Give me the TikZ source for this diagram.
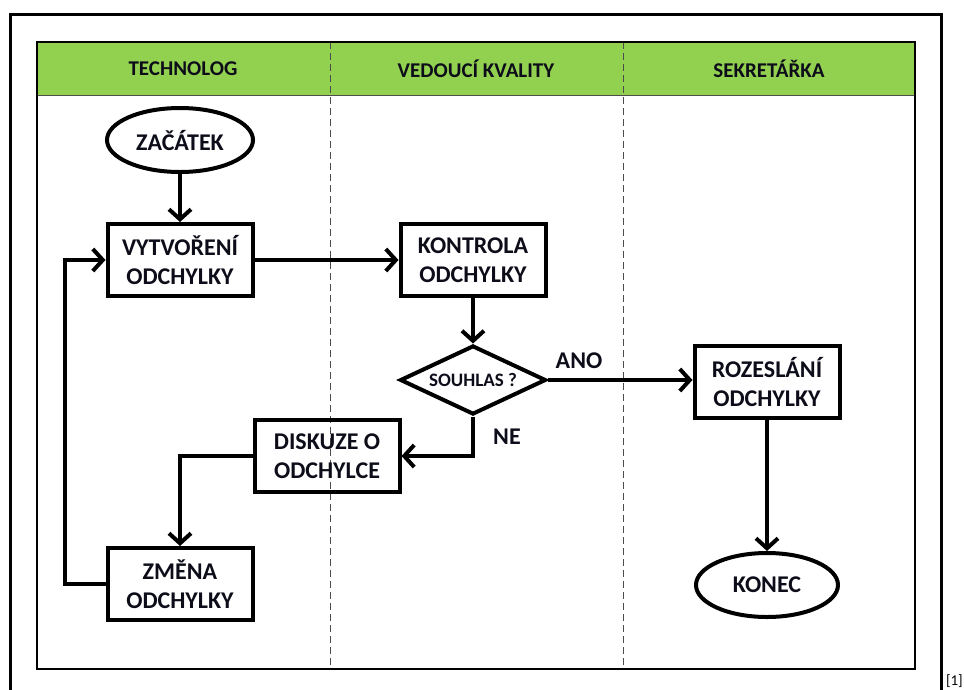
\documentclass[tikz,border=0pt]{standalone}
\usepackage{fontspec}
\setmainfont{Carlito}
\usetikzlibrary{shapes.geometric,arrows.meta}
\definecolor{hdrgreen}{HTML}{92D050}
\definecolor{txtc}{HTML}{0D0D1A}
\begin{document}
\begin{tikzpicture}[x=1pt,y=-1pt,
  proc/.style={draw,rectangle,line width=4pt,minimum width=145pt,minimum height=72pt,align=center,font=\fontsize{24}{29}\selectfont\bfseries,text=txtc,inner sep=1pt},
  term/.style={draw,ellipse,line width=4pt,minimum width=146pt,minimum height=64pt,align=center,font=\fontsize{24}{29}\selectfont\bfseries,text=txtc,inner sep=0pt},
  decis/.style={draw,diamond,line width=4pt,minimum width=146pt,minimum height=69pt,aspect=2.1,inner sep=0pt,font=\fontsize{19}{22}\selectfont\bfseries,text=txtc},
  hdr/.style={font=\fontsize{21}{24}\selectfont\bfseries,text=txtc},
  lbl/.style={font=\fontsize{24}{28}\selectfont\bfseries,text=txtc},
  flow/.style={line width=4pt,-{Straight Barb[length=10pt,width=22pt,line width=4pt]}},
  lane/.style={dashed,dash pattern=on 7pt off 4pt,line width=1pt,draw=black!70}
]
\useasboundingbox (0,0) rectangle (964,689);
% outer frame
\draw[line width=3pt] (10,700) -- (10,14) -- (941,14) -- (941,700);
% header
\fill[hdrgreen] (37,42) rectangle (915,95);
\draw[line width=1pt,draw=black!70] (37,95) -- (915,95);
\draw[lane] (330,42) -- (330,669);
\draw[lane] (623,42) -- (623,669);
\draw[line width=2.5pt] (37,42) rectangle (915,669);
\node[hdr] (h1) at (183,69) {TECHNOLOG};
\node[hdr] (h2) at (476,69) {VEDOUCÍ KVALITY};
\node[hdr] (h3) at (769,69) {SEKRETÁŘKA};
% nodes
\node[term] (start) at (180,140) {ZAČÁTEK};
\node[proc] (vytv) at (180,260) {VYTVOŘENÍ\\ODCHYLKY};
\node[proc] (kontr) at (473,260) {KONTROLA\\ODCHYLKY};
\node[decis] (souh) at (473,380) {SOUHLAS ?};
\node[proc] (rozes) at (767,382) {ROZESLÁNÍ\\ODCHYLKY};
\node[proc] (disk) at (327,456) {DISKUZE O\\ODCHYLCE};
\node[proc] (zmena) at (180,584) {ZMĚNA\\ODCHYLKY};
\node[term,minimum width=142pt] (konec) at (767,585) {KONEC};
\coordinate (loopL) at (65,584);
% connectors
\draw[flow] (start) -- (vytv);
\draw[flow] (vytv) -- (kontr);
\draw[flow] (kontr) -- (souh);
\draw[flow] (souh.east) -- (rozes.west |- souh.east);
\draw[flow] (souh.south) |- (disk.east);
\draw[flow] (disk.west) -| (zmena.north);
\draw[flow] (zmena.west) -- (loopL) |- (vytv.west);
\draw[flow] (rozes) -- (konec);
% labels
\node[lbl] (ano) at (579,361) {ANO};
\node[lbl] (ne) at (507,437) {NE};
\node[font=\fontsize{15}{17}\selectfont,anchor=east,inner sep=0pt] (ref) at (963,681) {[1]};
\end{tikzpicture}
\end{document}
